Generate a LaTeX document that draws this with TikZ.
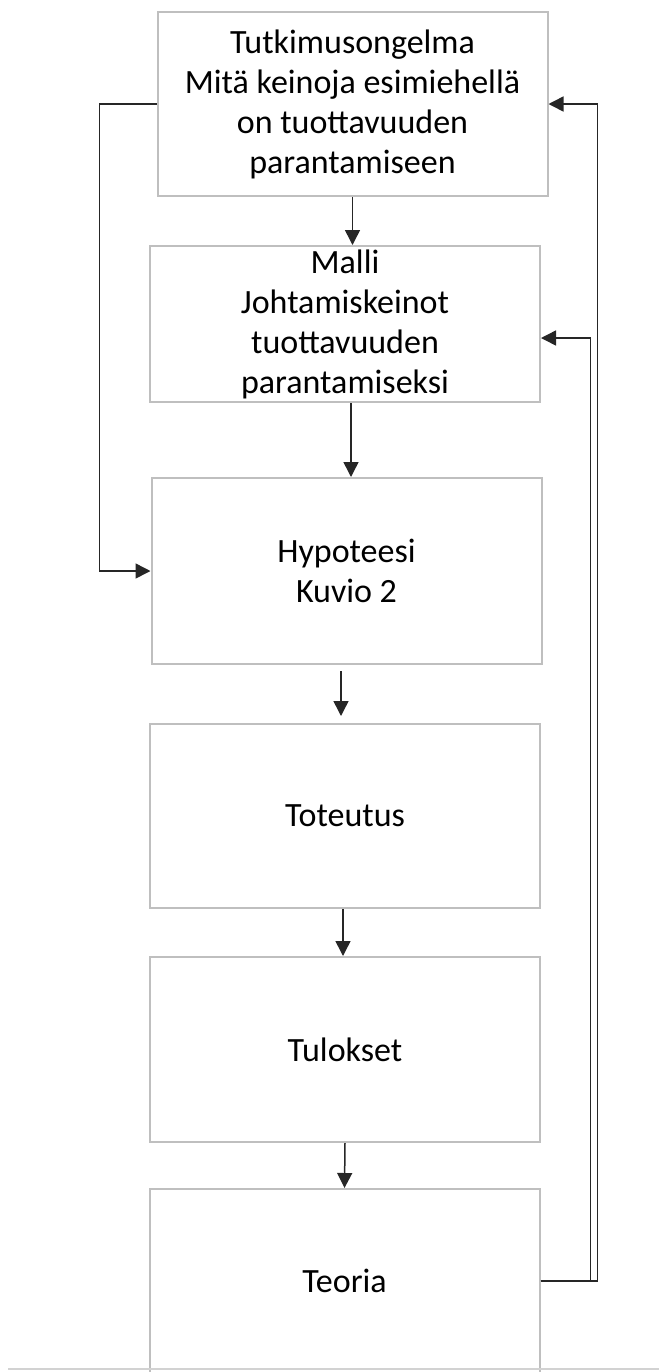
\documentclass[tikz,border=0pt]{standalone}
\usepackage{fontspec}
\setmainfont{Carlito}
\usepackage{tikz}
\usetikzlibrary{arrows.meta,positioning}

\tikzset{
  stagebox/.style={draw=gray!50, line width=1pt, minimum width=195pt,
    align=center, font=\fontsize{17}{20}\selectfont, inner sep=0pt},
  arr/.style={draw=black!85, line width=0.75pt,
    -{Triangle[length=7.5pt,width=7.5pt]}}
}

\begin{document}
\begin{tikzpicture}[x=0.5pt,y=-0.5pt]

\useasboundingbox (0,0) rectangle (659,1372);

\node [stagebox, minimum height=92pt] (tut) at (352.5,104)
  {Tutkimusongelma\\Mitä keinoja esimiehellä\\on tuottavuuden\\parantamiseen};
\node [stagebox, minimum height=78pt] (malli) at (345,324)
  {Malli\\Johtamiskeinot\\tuottavuuden\\parantamiseksi};
\node [stagebox, minimum height=93pt] (hyp) at (346.5,571)
  {Hypoteesi\\Kuvio 2};
\node [stagebox, minimum height=92pt] (tot) at (345,816) {Toteutus};
\node [stagebox, minimum height=92.5pt] (tul) at (345,1049.5) {Tulokset};
\node [stagebox, minimum height=92pt] (teo) at (344.5,1281) {Teoria};

\draw [gray!35, line width=1pt] (8,1369) -- (659,1369);

% chain down the middle
\draw [arr] (tut.south) -- (tut.south |- malli.north);
\draw [arr] ([xshift=3pt]malli.south) -- ([xshift=3pt]malli.south |- hyp.north);
\draw [arr, shorten <=3pt, shorten >=3.5pt] ([xshift=-2.75pt]hyp.south) -- ([xshift=-2.75pt]hyp.south |- tot.north);
\draw [arr] ([xshift=-1pt]tot.south) -- ([xshift=-1pt]tot.south |- tul.north);
\draw [arr] (tul.south) -- (teo.north);

% feedback lines
\coordinate (malliin) at ([yshift=-7pt]malli.east);
\draw [arr] (tut.west) -- ++(-57,0) |- (hyp.west);
\draw [arr] (teo.east) -- ++(57,0) |- (tut.east);
\draw [arr] (teo.east) -- ++(50,0) |- (malliin);

\end{tikzpicture}
\end{document}
